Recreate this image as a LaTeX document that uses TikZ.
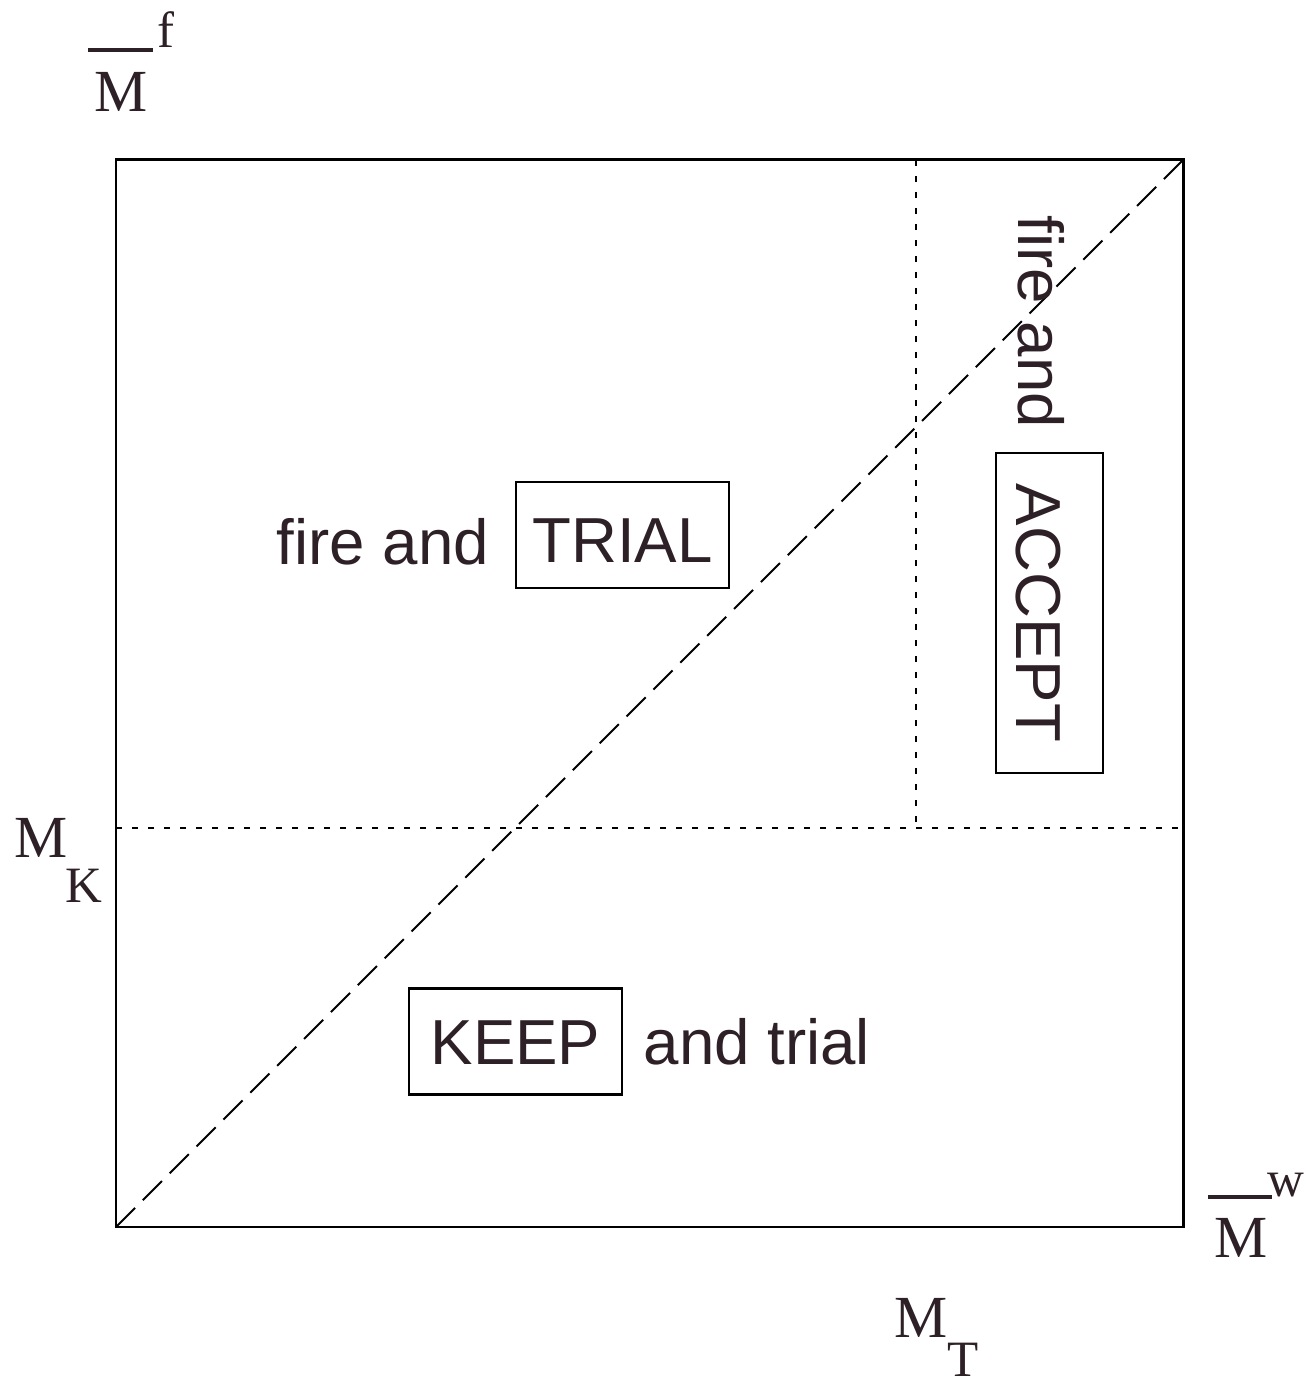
\documentclass[tikz,border=0pt]{standalone}
\usepackage{fontspec}
\setmainfont{Liberation Serif}
\setsansfont{Liberation Sans}
\usetikzlibrary{positioning}
\definecolor{ink}{RGB}{45,32,38}
\tikzset{
  word/.style={inner sep=0pt,text=ink,font=\sffamily\fontsize{18.1}{21}\selectfont},
  tag/.style={word,draw=black,line width=0.8pt,minimum width=2.13cm,text depth=0.25cm,text height=0.81cm},
  big/.style={inner sep=0pt,anchor=base,text=ink,font=\fontsize{17}{20}\selectfont},
  small/.style={inner sep=0pt,anchor=base,text=ink,font=\fontsize{14.5}{17}\selectfont},
  split/.style={line width=0.6pt,dash pattern=on 0.06cm off 0.1cm},
  diag/.style={line width=0.6pt,dash pattern=on 0.27cm off 0.11cm}
}
\begin{document}
\begin{tikzpicture}
\useasboundingbox (0,0) rectangle (13.06,13.85);
\coordinate (sw) at (1.16,1.58);
\coordinate (ne) at (11.83,12.25);
\coordinate (kl) at (1.16,5.57);
\coordinate (kr) at (11.83,5.57);
\coordinate (tt) at (9.16,12.25);
\coordinate (tk) at (9.16,5.57);
\draw[line width=0.85pt] (sw) rectangle (ne);
\draw[split] (kl) -- (kr);
\draw[split] (tt) -- (tk);
\draw[diag] (sw) -- (ne);
% axis labels
\node[big] (mf) at (1.21,12.73) {M};
\node[small] (f) at (1.66,13.37) {f};
\draw[line width=1.1pt,ink] (0.88,13.35) coordinate (fa) -- (1.53,13.35) coordinate (fb);
\node[big] (mw) at (12.41,1.27) {M};
\node[small] (w) at (12.86,1.88) {w};
\draw[line width=1.1pt,ink] (12.08,1.88) coordinate (wa) -- (12.72,1.88) coordinate (wb);
\node[big] (mk) at (0.41,5.27) {M};
\node[small] (k) at (0.84,4.82) {K};
\node[big] (mt) at (9.21,0.47) {M};
\node[small] (t) at (9.63,0.08) {T};
% regions
\node[word,anchor=base west] (fire) at (2.76,8.2) {fire and};
\node[tag] (trial) at (6.225,8.5) {TRIAL};
\node[tag,text depth=0.30cm,text height=0.76cm] (keep) at (5.155,3.435) {KEEP};
\node[word,anchor=base west] (andtrial) at (6.43,3.2) {and trial};
\node[tag,rotate=-90,minimum width=3.2cm,text depth=0.20cm,text height=0.87cm] (accept) at (10.495,7.72) {ACCEPT};
\node[word,anchor=base west,rotate=-90] (fire2) at (10.18,11.70) {fire and};
\end{tikzpicture}
\end{document}
